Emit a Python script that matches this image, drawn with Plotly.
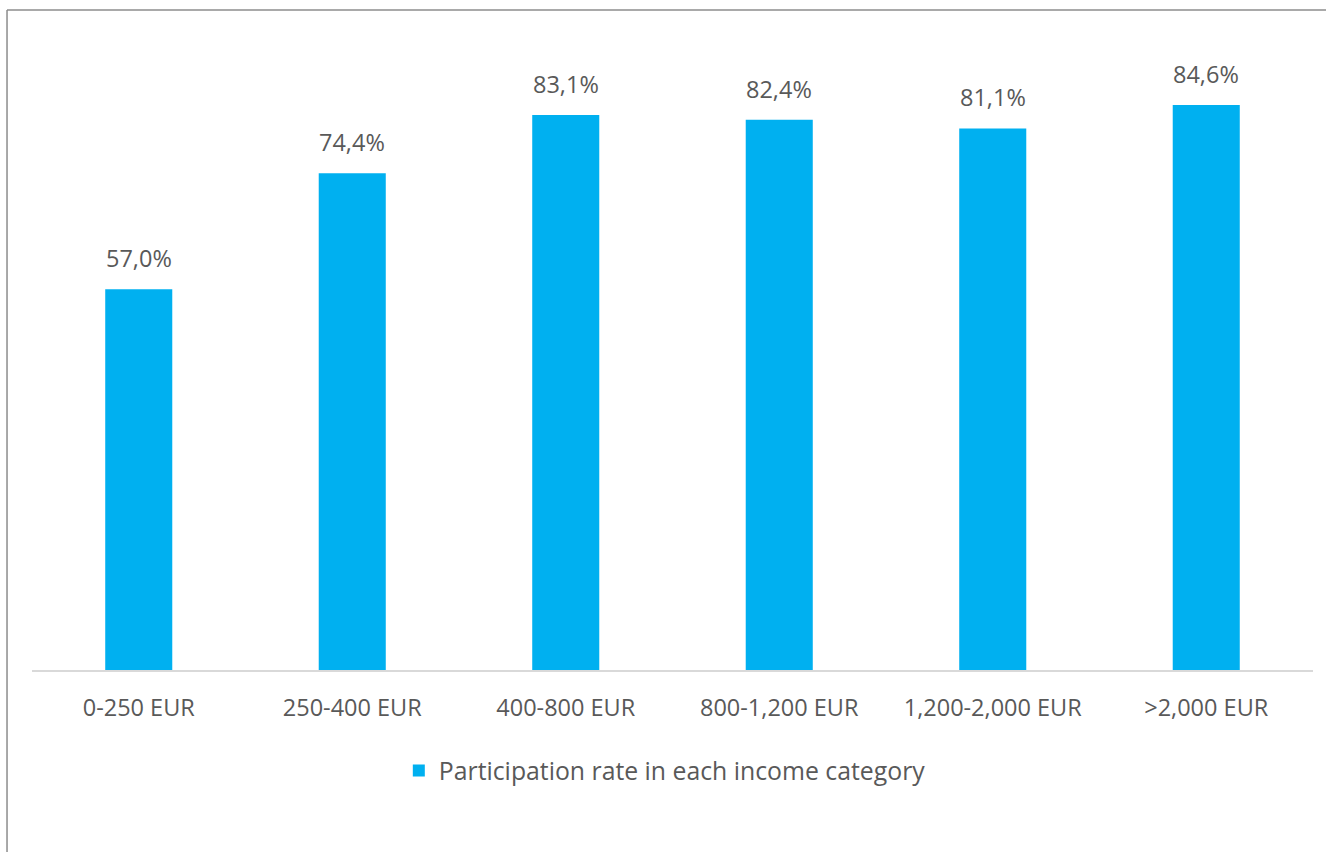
import plotly.graph_objects as go

# Participation rate by monthly income band
categories = ["0-250 EUR", "250-400 EUR", "400-800 EUR", "800-1,200 EUR", "1,200-2,000 EUR", ">2,000 EUR"]
rates = [57.0, 74.4, 83.1, 82.4, 81.1, 84.6]
series_name = "Participation rate in each income category"

BAR_COLOR = "#00B0F0"
TEXT_COLOR = "#595959"
FONT = "Open Sans"

fig = go.Figure()
fig.add_trace(go.Bar(
    x=categories,
    y=rates,
    name=series_name,
    marker=dict(color=BAR_COLOR, line=dict(width=0)),
    showlegend=True,
))

# Value labels above each bar (comma decimal separator)
for cat, val in zip(categories, rates):
    fig.add_annotation(
        x=cat, y=val, xref="x", yref="y",
        text=f"{val:.1f}%".replace(".", ","),
        showarrow=False, yanchor="bottom", yshift=13,
        font=dict(family=FONT, size=23.5, color=TEXT_COLOR),
    )

# Chart-area frame (top and left edges visible)
frame_color = "#8C8C8C"
fig.add_shape(type="line", xref="paper", yref="paper",
              x0=-0.0195, x1=1.05, y0=1.098, y1=1.098,
              line=dict(color=frame_color, width=1.5))
fig.add_shape(type="line", xref="paper", yref="paper",
              x0=-0.0195, x1=-0.0195, y0=1.098, y1=-0.35,
              line=dict(color=frame_color, width=1.5))

fig.update_layout(
    width=1326, height=852,
    margin=dict(l=32, r=13, t=69, b=182),
    paper_bgcolor="white", plot_bgcolor="white",
    bargap=0.686,
    font=dict(family=FONT, color=TEXT_COLOR),
    legend=dict(
        orientation="h", x=0.494, xanchor="center", y=-0.168, yanchor="middle",
        font=dict(family=FONT, size=24.8, color=TEXT_COLOR),
        itemwidth=30,
    ),
    xaxis=dict(
        showline=True, linecolor="#D9D9D9", linewidth=1.5,
        ticks="", showgrid=False, ticklabelstandoff=16,
        tickfont=dict(family=FONT, size=23.5, color=TEXT_COLOR),
    ),
    yaxis=dict(
        range=[0, 90], visible=False, showgrid=False, zeroline=False,
    ),
)

fig.write_html("out.html")
